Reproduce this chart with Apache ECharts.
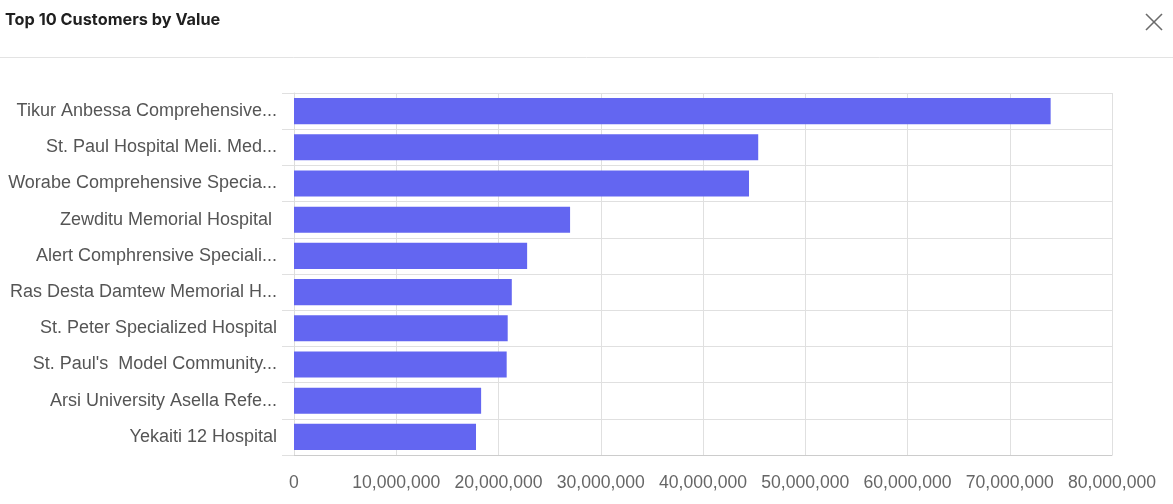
<!DOCTYPE html>
<html>
<head>
<meta charset="utf-8">
<style>
html,body{margin:0;padding:0;background:#fff;}
#chart{width:1173px;height:504px;}
</style>
<script src="https://cdn.jsdelivr.net/npm/echarts@6/dist/echarts.min.js"></script>
</head>
<body>
<div id="chart"></div>
<script>
const titleText = "Top 10 Customers by Value";
const categories = [
  "Tikur Anbessa Comprehensive...",
  "St. Paul Hospital Meli. Med...",
  "Worabe Comprehensive Specia...",
  "Zewditu Memorial Hospital ",
  "Alert Comphrensive Speciali...",
  "Ras Desta Damtew Memorial H...",
  "St. Peter Specialized Hospital",
  "St. Paul's  Model Community...",
  "Arsi University Asella Refe...",
  "Yekaiti 12 Hospital"
];
const values = [74000000, 45400000, 44500000, 27000000, 22800000, 21300000, 20900000, 20800000, 18300000, 17800000];

const chart = echarts.init(document.getElementById('chart'));
chart.setOption({
  animation: false,
  title: {
    text: titleText,
    left: 0, top: 7,
    textStyle: {fontFamily: 'Inter', fontSize: 16.3, fontWeight: 'bold', color: '#1f1f1f'}
  },
  graphic: [
    {type: 'line', shape: {x1: 0, y1: 57.5, x2: 1173, y2: 57.5}, style: {stroke: '#e3e3e3', lineWidth: 1}},
    {type: 'line', shape: {x1: 1146, y1: 14, x2: 1162, y2: 30}, style: {stroke: '#6b6b6b', lineWidth: 1.6}},
    {type: 'line', shape: {x1: 1162, y1: 14, x2: 1146, y2: 30}, style: {stroke: '#6b6b6b', lineWidth: 1.6}}
  ],
  grid: {left: 294, right: 61, top: 93, bottom: 49, containLabel: false},
  xAxis: {
    type: 'value', min: 0, max: 80000000, interval: 10000000,
    axisLine: {show: true, lineStyle: {color: '#cccccc'}},
    axisTick: {show: false},
    axisLabel: {
      margin: 19, fontFamily: 'Liberation Sans', fontSize: 17.6, color: '#666666',
      formatter: v => v.toLocaleString('en-US')
    },
    splitLine: {show: true, lineStyle: {color: '#e0e0e0'}}
  },
  yAxis: {
    type: 'category', data: categories, inverse: true,
    axisLine: {show: true, lineStyle: {color: '#dddddd'}},
    axisTick: {show: true, length: 12, lineStyle: {color: '#e0e0e0'}},
    axisLabel: {margin: 17, fontFamily: 'Liberation Sans', fontSize: 18, color: '#555555'},
    splitLine: {show: true, lineStyle: {color: '#e0e0e0'}}
  },
  series: [{
    type: 'bar', data: values, barCategoryGap: '28%',
    itemStyle: {color: '#6366f1'}
  }]
});
</script>
</body>
</html>
